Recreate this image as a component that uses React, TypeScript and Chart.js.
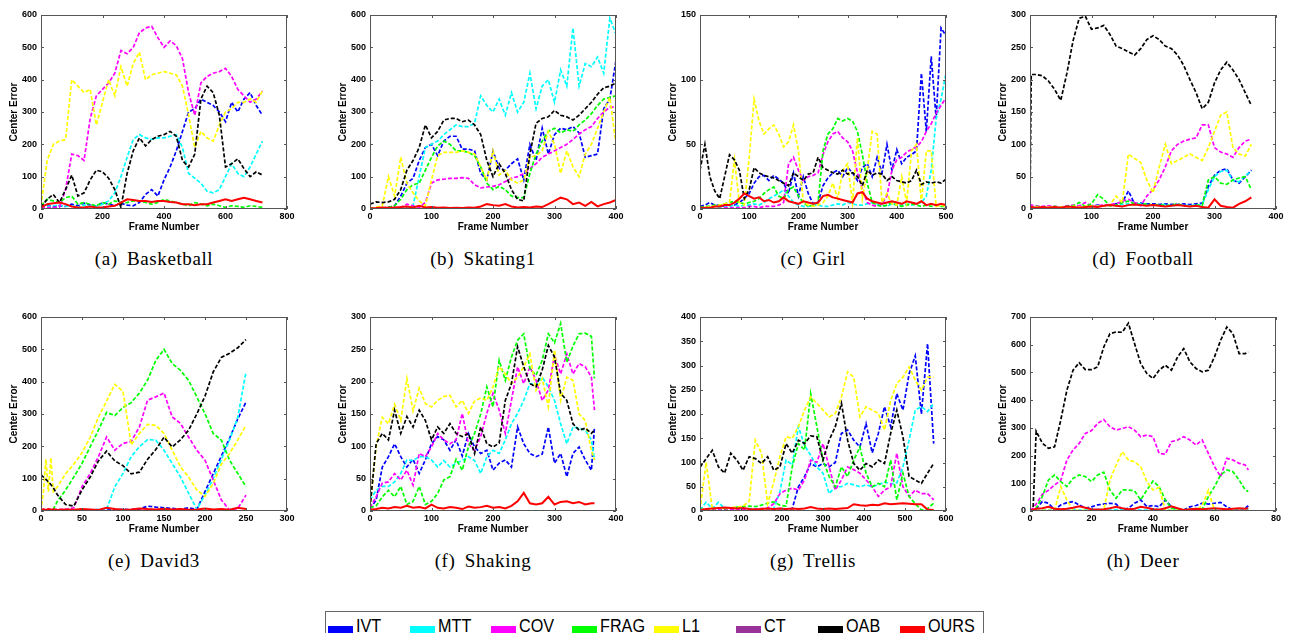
import React, { useEffect, useRef } from 'react';
import { Chart, registerables } from 'chart.js';

Chart.register(...registerables);

// ---------- series meta ----------
const SERIES_NAMES = ['IVT', 'MTT', 'COV', 'FRAG', 'L1', 'CT', 'OAB', 'OURS'];
const SERIES_COLORS = ['#0000ff', '#00ffff', '#ff00ff', '#00ff00', '#ffff00', '#993399', '#000000', '#ff0000'];

// ---------- (a) Basketball ----------
const bbFrames = [0, 20, 40, 60, 80, 100, 120, 140, 160, 180, 200, 220, 240, 260, 280, 300, 320, 340, 360, 380, 400, 420, 440, 460, 480, 500, 520, 540, 560, 580, 600, 620, 640, 660, 680, 700, 720];
const bbIVT = [8, 12, 6, 10, 8, 15, 10, 18, 12, 8, 20, 15, 10, 18, 12, 10, 20, 45, 60, 40, 90, 130, 180, 240, 300, 310, 340, 330, 320, 300, 270, 330, 300, 340, 360, 320, 290];
const bbMTT = [5, 8, 10, 12, 8, 10, 6, 12, 10, 8, 15, 25, 50, 100, 160, 215, 230, 220, 215, 220, 220, 225, 230, 190, 110, 95, 80, 55, 50, 60, 100, 140, 110, 100, 130, 170, 210];
const bbCOV = [3, 4, 5, 5, 60, 170, 165, 150, 280, 350, 370, 390, 420, 490, 480, 500, 545, 560, 565, 530, 500, 520, 505, 465, 360, 290, 390, 410, 420, 425, 435, 410, 370, 350, 330, 340, 365];
const bbFRAG = [10, 30, 25, 20, 35, 40, 15, 20, 15, 10, 20, 15, 25, 20, 20, 25, 25, 20, 15, 20, 30, 25, 20, 15, 10, 20, 15, 10, 15, 10, 5, 10, 8, 5, 10, 8, 5];
const bbL1 = [10, 150, 200, 210, 215, 400, 380, 360, 370, 260, 330, 400, 350, 440, 380, 450, 485, 400, 415, 420, 425, 420, 415, 380, 290, 190, 240, 220, 210, 260, 300, 310, 330, 330, 340, 330, 365];
const bbOAB = [5, 30, 45, 20, 60, 105, 40, 50, 90, 120, 115, 95, 60, 5, 110, 180, 220, 195, 215, 225, 230, 240, 225, 150, 130, 170, 340, 380, 360, 290, 130, 140, 155, 125, 100, 115, 105];
const bbOURS = [5, 15, 18, 20, 15, 8, 5, 5, 8, 5, 5, 8, 10, 20, 30, 28, 25, 25, 22, 25, 25, 22, 20, 15, 15, 12, 15, 15, 20, 25, 30, 25, 30, 35, 30, 25, 20];

// ---------- (b) Skating1 ----------
const skFrames = [0, 10, 20, 30, 40, 50, 60, 70, 80, 90, 100, 110, 120, 130, 140, 150, 160, 170, 180, 190, 200, 210, 220, 230, 240, 250, 260, 270, 280, 290, 300, 310, 320, 330, 340, 350, 360, 370, 380, 390, 400];
const skIVT = [2, 2, 3, 5, 10, 40, 80, 95, 150, 190, 200, 165, 210, 225, 225, 185, 185, 180, 110, 90, 180, 125, 120, 140, 155, 90, 200, 150, 250, 170, 230, 250, 245, 255, 235, 160, 165, 170, 310, 340, 460];
const skMTT = [0, 0, 2, 3, 3, 3, 5, 10, 100, 190, 200, 210, 230, 245, 260, 255, 255, 265, 350, 320, 300, 340, 290, 360, 300, 330, 420, 310, 380, 400, 330, 430, 380, 560, 380, 450, 440, 470, 420, 590, 540];
const skCOV = [0, 0, 0, 0, 2, 5, 15, 10, 5, 20, 80, 90, 92, 95, 95, 97, 95, 75, 65, 68, 70, 75, 85, 95, 100, 110, 125, 140, 160, 170, 180, 190, 200, 215, 232, 245, 255, 280, 300, 315, 315];
const skFRAG = [2, 3, 3, 5, 10, 30, 60, 75, 80, 120, 160, 195, 210, 200, 180, 180, 175, 165, 130, 80, 60, 70, 60, 40, 35, 35, 110, 170, 210, 240, 250, 235, 245, 240, 260, 275, 295, 320, 340, 345, 350];
const skL1 = [2, 5, 10, 100, 40, 160, 80, 50, 25, 10, 90, 165, 175, 175, 175, 180, 175, 170, 130, 90, 180, 105, 120, 90, 80, 90, 160, 165, 180, 240, 200, 110, 180, 130, 100, 170, 200, 250, 300, 345, 200];
const skOAB = [15, 22, 20, 22, 30, 60, 120, 150, 190, 260, 220, 240, 275, 280, 280, 270, 275, 260, 230, 150, 100, 140, 110, 60, 30, 25, 170, 265, 280, 285, 305, 290, 285, 275, 290, 310, 330, 355, 375, 380, 390];
const skOURS = [2, 3, 5, 4, 5, 6, 8, 5, 10, 5, 6, 4, 5, 3, 4, 3, 5, 4, 8, 15, 12, 10, 15, 8, 5, 6, 5, 8, 6, 15, 25, 35, 30, 15, 20, 10, 22, 8, 15, 20, 28];

// ---------- (c) Girl ----------
const giFrames = [0, 10, 20, 30, 40, 50, 60, 70, 80, 90, 100, 110, 120, 130, 140, 150, 160, 170, 180, 190, 200, 210, 220, 230, 240, 250, 260, 270, 280, 290, 300, 310, 320, 330, 340, 350, 360, 370, 380, 390, 400, 410, 420, 430, 440, 450, 460, 470, 480, 490, 500];
const giIVT = [2, 3, 5, 3, 3, 2, 3, 3, 5, 8, 12, 20, 25, 26, 22, 26, 23, 20, 12, 28, 10, 25, 12, 4, 5, 18, 24, 28, 30, 25, 32, 28, 22, 32, 35, 25, 40, 28, 50, 30, 46, 35, 40, 42, 45, 105, 60, 118, 70, 140, 134];
const giMTT = [1, 1, 2, 2, 1, 2, 2, 3, 2, 3, 3, 4, 3, 5, 8, 10, 12, 15, 10, 5, 3, 2, 2, 3, 3, 2, 2, 3, 4, 3, 5, 4, 3, 3, 4, 5, 4, 3, 2, 4, 3, 3, 4, 3, 4, 5, 10, 30, 70, 85, 105];
const giCOV = [0, 0, 0, 0, 0, 1, 1, 1, 1, 1, 2, 2, 1, 2, 2, 2, 3, 5, 35, 40, 30, 22, 25, 26, 28, 42, 52, 58, 60, 55, 52, 45, 28, 15, 5, 3, 2, 4, 10, 30, 38, 40, 44, 46, 48, 52, 60, 66, 74, 80, 86];
const giFRAG = [1, 2, 2, 3, 3, 4, 5, 6, 5, 4, 5, 6, 8, 12, 15, 17, 10, 8, 15, 17, 10, 5, 2, 3, 5, 45, 58, 62, 70, 68, 70, 68, 60, 42, 20, 5, 3, 2, 3, 5, 3, 2, 3, 4, 3, 2, 3, 2, 3, 2, 2];
const giL1 = [0, 1, 2, 2, 3, 4, 5, 38, 5, 3, 40, 85, 68, 58, 62, 65, 58, 48, 52, 65, 45, 5, 3, 2, 3, 5, 10, 20, 8, 30, 35, 5, 55, 8, 30, 60, 58, 5, 12, 4, 3, 25, 5, 45, 50, 5, 45, 45, 2, 3, 2];
const giOAB = [30, 50, 25, 14, 8, 25, 42, 38, 30, 8, 15, 32, 28, 26, 25, 24, 22, 20, 18, 28, 25, 22, 27, 28, 40, 32, 30, 28, 27, 30, 27, 28, 25, 18, 30, 26, 28, 27, 22, 25, 22, 21, 20, 22, 30, 19, 21, 20, 21, 20, 23];
const giOURS = [1, 1, 1, 2, 2, 3, 3, 5, 8, 12, 10, 8, 9, 6, 7, 5, 6, 9, 6, 5, 4, 6, 5, 4, 5, 10, 11, 9, 8, 7, 6, 5, 12, 13, 8, 6, 5, 4, 5, 6, 5, 4, 6, 5, 4, 6, 3, 4, 3, 4, 3];

// ---------- (d) Football ----------
const fbFrames = [0, 2, 10, 20, 30, 40, 50, 60, 70, 80, 90, 100, 110, 120, 130, 140, 150, 160, 170, 180, 190, 200, 210, 220, 230, 240, 250, 260, 270, 280, 290, 300, 310, 320, 330, 340, 350, 360];
const fbIVT = [3, 3, 3, 2, 3, 2, 3, 4, 3, 4, 3, 5, 6, 5, 6, 8, 10, 28, 8, 9, 8, 8, 7, 8, 7, 7, 8, 7, 8, 9, 35, 52, 60, 62, 45, 40, 50, 60];
const fbMTT = [2, 2, 2, 3, 2, 3, 2, 3, 3, 4, 3, 4, 5, 5, 6, 6, 7, 8, 7, 8, 7, 6, 6, 7, 5, 6, 6, 5, 6, 7, 30, 50, 58, 60, 44, 42, 52, 58];
const fbCOV = [8, 6, 5, 4, 5, 4, 3, 5, 6, 5, 10, 4, 5, 6, 7, 8, 12, 15, 10, 5, 20, 30, 45, 65, 90, 100, 105, 108, 110, 130, 130, 95, 88, 85, 80, 95, 105, 108];
const fbFRAG = [2, 3, 4, 3, 2, 4, 3, 4, 5, 10, 4, 8, 22, 15, 5, 6, 10, 12, 8, 7, 8, 6, 7, 5, 6, 8, 5, 4, 6, 5, 45, 50, 40, 38, 45, 48, 50, 30];
const fbL1 = [3, 3, 3, 2, 3, 2, 3, 3, 4, 3, 4, 5, 4, 5, 6, 20, 10, 85, 78, 72, 45, 25, 65, 100, 70, 75, 80, 85, 80, 75, 95, 120, 145, 150, 95, 85, 82, 100];
const fbOAB = [5, 208, 208, 206, 198, 185, 168, 210, 260, 295, 298, 278, 280, 284, 270, 252, 248, 243, 238, 248, 262, 268, 262, 252, 248, 238, 222, 200, 180, 155, 165, 195, 215, 227, 215, 200, 180, 160];
const fbOURS = [2, 3, 2, 3, 2, 3, 2, 4, 3, 2, 3, 4, 3, 5, 6, 5, 4, 6, 7, 6, 5, 6, 5, 4, 5, 6, 5, 4, 5, 3, 2, 15, 5, 3, 2, 8, 12, 18];

// ---------- (e) David3 ----------
const dvFrames = [0, 3, 6, 9, 12, 15, 20, 30, 40, 50, 60, 70, 80, 90, 100, 110, 120, 130, 140, 150, 160, 170, 180, 190, 200, 210, 220, 230, 240, 250];
const dvIVT = [2, 3, 2, 3, 2, 3, 2, 3, 2, 3, 3, 4, 3, 4, 5, 4, 6, 15, 12, 10, 8, 6, 10, 5, 60, 115, 170, 225, 285, 337];
const dvMTT = [2, 3, 2, 3, 2, 3, 2, 3, 3, 2, 3, 4, 5, 75, 116, 168, 199, 221, 219, 188, 147, 106, 55, 5, 50, 100, 160, 220, 290, 430];
const dvCOV = [5, 5, 4, 5, 5, 4, 5, 5, 10, 75, 116, 168, 229, 188, 209, 215, 260, 343, 353, 365, 291, 271, 229, 188, 157, 96, 34, 3, 8, 49];
const dvFRAG = [3, 3, 3, 2, 3, 5, 30, 65, 105, 147, 199, 250, 305, 295, 320, 335, 365, 405, 466, 500, 456, 435, 404, 353, 301, 240, 219, 157, 116, 75];
const dvL1 = [0, 60, 160, 60, 165, 60, 75, 115, 145, 180, 228, 290, 340, 392, 370, 205, 240, 268, 265, 240, 188, 137, 105, 65, 45, 85, 145, 178, 220, 265];
const dvOAB = [112, 105, 98, 90, 82, 72, 50, 20, 15, 65, 105, 155, 185, 155, 140, 115, 120, 160, 190, 228, 198, 220, 250, 300, 355, 430, 475, 488, 505, 530];
const dvOURS = [2, 5, 3, 6, 4, 5, 3, 5, 4, 6, 5, 3, 10, 6, 4, 5, 8, 6, 5, 7, 5, 6, 4, 5, 8, 5, 6, 4, 10, 6];

// ---------- (f) Shaking ----------
const shFrames = [0, 10, 20, 30, 40, 50, 60, 70, 80, 90, 100, 110, 120, 130, 140, 150, 160, 170, 180, 190, 200, 210, 220, 230, 240, 250, 260, 270, 280, 290, 300, 310, 320, 330, 340, 350, 360, 365];
const shIVT = [3, 17, 68, 84, 104, 84, 68, 80, 58, 79, 104, 115, 110, 94, 110, 85, 120, 99, 89, 94, 63, 74, 79, 68, 130, 104, 89, 84, 88, 130, 74, 89, 53, 89, 99, 79, 63, 130];
const shMTT = [17, 32, 38, 38, 45, 58, 79, 78, 84, 84, 79, 68, 78, 68, 74, 78, 84, 78, 58, 84, 94, 89, 110, 135, 151, 171, 197, 195, 207, 192, 171, 135, 104, 130, 128, 125, 110, 79];
const shCOV = [5, 22, 43, 45, 58, 48, 63, 40, 89, 84, 99, 120, 110, 104, 110, 151, 104, 94, 115, 151, 182, 156, 120, 171, 223, 197, 223, 202, 171, 187, 241, 212, 243, 212, 228, 223, 207, 156];
const shFRAG = [5, 8, 22, 32, 22, 38, 10, 15, 38, 10, 15, 27, 48, 53, 80, 63, 99, 120, 150, 192, 161, 233, 202, 238, 264, 274, 220, 210, 233, 274, 260, 290, 230, 255, 274, 275, 270, 205];
const shL1 = [5, 100, 145, 135, 165, 140, 205, 155, 190, 166, 161, 171, 177, 179, 161, 171, 151, 170, 175, 171, 192, 223, 212, 197, 207, 223, 243, 187, 205, 161, 249, 171, 207, 202, 150, 140, 94, 79];
const shOAB = [5, 104, 120, 110, 156, 120, 146, 130, 156, 140, 110, 130, 120, 135, 120, 115, 120, 89, 130, 104, 99, 105, 171, 197, 254, 223, 197, 192, 218, 256, 238, 182, 171, 135, 125, 128, 120, 125];
const shOURS = [2, 3, 5, 4, 6, 5, 8, 5, 6, 4, 10, 5, 4, 6, 5, 3, 7, 5, 6, 8, 5, 6, 4, 8, 15, 28, 12, 10, 12, 22, 10, 14, 15, 12, 14, 10, 12, 12];

// ---------- (g) Trellis ----------
const trFrames = [0, 15, 30, 45, 60, 75, 90, 105, 120, 135, 150, 165, 180, 195, 210, 225, 240, 255, 270, 285, 300, 315, 330, 345, 360, 375, 390, 405, 420, 435, 450, 465, 480, 495, 510, 525, 540, 555, 570];
const trIVT = [2, 3, 2, 3, 4, 3, 4, 3, 4, 3, 4, 5, 4, 5, 4, 5, 50, 71, 98, 91, 98, 91, 100, 160, 167, 146, 132, 180, 120, 160, 215, 174, 242, 208, 283, 320, 200, 345, 139];
const trMTT = [2, 18, 5, 18, 5, 4, 3, 4, 5, 4, 3, 4, 5, 40, 105, 95, 174, 135, 115, 91, 78, 36, 50, 50, 57, 54, 50, 54, 50, 54, 60, 56, 58, 91, 146, 208, 215, 205, 222];
const trCOV = [2, 3, 3, 4, 3, 4, 3, 4, 3, 4, 5, 6, 15, 36, 43, 47, 43, 64, 105, 100, 139, 91, 43, 64, 91, 85, 78, 64, 50, 30, 43, 50, 119, 50, 30, 43, 36, 36, 23];
const trFRAG = [3, 4, 5, 6, 5, 6, 8, 9, 10, 9, 12, 16, 19, 12, 10, 91, 139, 126, 242, 174, 105, 71, 50, 91, 71, 105, 132, 78, 50, 57, 50, 105, 23, 78, 30, 15, 2, 5, 16];
const trL1 = [2, 100, 5, 6, 5, 7, 8, 10, 20, 146, 119, 15, 60, 112, 153, 150, 174, 208, 235, 222, 208, 194, 201, 235, 287, 276, 194, 215, 208, 201, 167, 228, 263, 276, 297, 270, 249, 276, 276];
const trOAB = [90, 108, 125, 91, 78, 119, 105, 84, 112, 108, 98, 112, 84, 91, 139, 119, 146, 139, 155, 153, 105, 146, 174, 222, 146, 98, 84, 98, 91, 105, 98, 160, 208, 153, 71, 64, 57, 78, 98];
const trOURS = [2, 4, 5, 6, 7, 6, 5, 6, 4, 3, 4, 5, 4, 5, 4, 5, 4, 5, 8, 5, 4, 5, 4, 5, 6, 14, 12, 11, 13, 12, 16, 14, 15, 16, 15, 14, 14, 3, 2];

// ---------- (h) Deer ----------
const deFrames = [0, 1, 2, 4, 6, 8, 10, 12, 14, 16, 18, 20, 22, 24, 26, 28, 30, 32, 34, 36, 38, 40, 42, 44, 46, 48, 50, 52, 54, 56, 58, 60, 62, 64, 66, 68, 70, 71];
const deIVT = [2, 3, 8, 34, 28, 4, 22, 30, 34, 22, 10, 15, 22, 25, 28, 25, 4, 10, 28, 40, 16, 20, 15, 40, 15, 4, 4, 15, 20, 28, 25, 28, 31, 15, 4, 4, 10, 19];
const deMTT = [1, 1, 2, 3, 4, 3, 5, 8, 6, 4, 3, 5, 6, 4, 3, 5, 4, 6, 5, 3, 4, 6, 5, 4, 3, 5, 4, 6, 8, 10, 6, 4, 3, 5, 4, 3, 4, 5];
const deCOV = [5, 10, 25, 60, 75, 94, 110, 184, 220, 244, 280, 290, 316, 330, 304, 292, 298, 304, 292, 268, 274, 268, 208, 205, 250, 256, 268, 256, 238, 256, 208, 160, 124, 190, 184, 172, 166, 148];
const deFRAG = [0, 2, 10, 52, 112, 130, 106, 88, 118, 130, 124, 106, 130, 140, 76, 46, 76, 76, 72, 40, 76, 108, 88, 40, 10, 5, 4, 6, 8, 6, 52, 88, 130, 148, 142, 112, 76, 70];
const deL1 = [0, 0, 1, 2, 2, 3, 88, 40, 3, 2, 2, 2, 2, 5, 112, 165, 214, 184, 178, 160, 106, 76, 85, 3, 2, 2, 2, 2, 2, 20, 75, 2, 1, 1, 1, 1, 1, 1];
const deOAB = [0, 5, 288, 245, 226, 232, 328, 436, 508, 535, 510, 510, 520, 592, 640, 646, 645, 678, 604, 532, 496, 478, 508, 526, 508, 556, 586, 538, 514, 502, 508, 556, 616, 664, 640, 568, 568, 574];
const deOURS = [2, 5, 8, 10, 15, 8, 6, 8, 12, 17, 12, 6, 5, 6, 10, 15, 10, 6, 8, 15, 12, 6, 5, 10, 17, 10, 4, 6, 8, 6, 8, 10, 8, 6, 8, 10, 8, 10];

// ---------- axis ranges / captions ----------
const CAPTIONS = ['(a) Basketball', '(b) Skating1', '(c) Girl', '(d) Football', '(e) David3', '(f) Shaking', '(g) Trellis', '(h) Deer'];
const X_MAX = [800, 400, 500, 400, 300, 400, 600, 80];
const X_STEP = [200, 100, 100, 100, 50, 100, 100, 20];
const Y_MAX = [600, 600, 150, 300, 600, 300, 400, 700];
const Y_STEP = [100, 100, 50, 50, 100, 50, 50, 100];

const PANEL_DATA = [
  { frames: bbFrames, values: [bbIVT, bbMTT, bbCOV, bbFRAG, bbL1, null, bbOAB, bbOURS] },
  { frames: skFrames, values: [skIVT, skMTT, skCOV, skFRAG, skL1, null, skOAB, skOURS] },
  { frames: giFrames, values: [giIVT, giMTT, giCOV, giFRAG, giL1, null, giOAB, giOURS] },
  { frames: fbFrames, values: [fbIVT, fbMTT, fbCOV, fbFRAG, fbL1, null, fbOAB, fbOURS] },
  { frames: dvFrames, values: [dvIVT, dvMTT, dvCOV, dvFRAG, dvL1, null, dvOAB, dvOURS] },
  { frames: shFrames, values: [shIVT, shMTT, shCOV, shFRAG, shL1, null, shOAB, shOURS] },
  { frames: trFrames, values: [trIVT, trMTT, trCOV, trFRAG, trL1, null, trOAB, trOURS] },
  { frames: deFrames, values: [deIVT, deMTT, deCOV, deFRAG, deL1, null, deOAB, deOURS] },
];

// ---------- layout ----------
const COL_LEFT = [41, 370, 700, 1030];
const ROW_TOP = [15, 317];
const PLOT_W = 246;
const PLOT_H = 194;
const AXIS_W = 40;
const AXIS_H = 26;
const PAD_TOP = 10;
const PAD_RIGHT = 16;
const CANVAS_W = AXIS_W + PLOT_W + PAD_RIGHT;
const CANVAS_H = PAD_TOP + PLOT_H + AXIS_H;

const FONT_FAMILY = "'Liberation Sans', Arial, Helvetica, sans-serif";

const boxPlugin = {
  id: 'matlabBox',
  afterDraw(chart: any) {
    const { ctx, chartArea: a, scales } = chart;
    ctx.save();
    ctx.strokeStyle = '#555555';
    ctx.lineWidth = 1;
    ctx.strokeRect(Math.round(a.left) + 0.5, Math.round(a.top) + 0.5, Math.round(a.right - a.left) - 1, Math.round(a.bottom - a.top) - 1);
    const L = 3;
    ctx.beginPath();
    scales.x.ticks.forEach((_t: any, i: number) => {
      const x = Math.round(scales.x.getPixelForTick(i)) + 0.5;
      ctx.moveTo(x, a.bottom);
      ctx.lineTo(x, a.bottom - L);
      ctx.moveTo(x, a.top);
      ctx.lineTo(x, a.top + L);
    });
    scales.y.ticks.forEach((_t: any, i: number) => {
      const y = Math.round(scales.y.getPixelForTick(i)) + 0.5;
      ctx.moveTo(a.left, y);
      ctx.lineTo(a.left + L, y);
      ctx.moveTo(a.right, y);
      ctx.lineTo(a.right - L, y);
    });
    ctx.stroke();
    ctx.restore();
  },
};

function Panel({ index }: { index: number }) {
  const ref = useRef<HTMLCanvasElement | null>(null);
  const col = index % 4;
  const row = Math.floor(index / 4);
  const left = COL_LEFT[col] - AXIS_W;
  const top = ROW_TOP[row] - PAD_TOP;

  useEffect(() => {
    if (!ref.current) return;
    const pd = PANEL_DATA[index];
    const datasets: any[] = [];
    pd.values.forEach((vals, si) => {
      if (!vals) return;
      const isOurs = SERIES_NAMES[si] === 'OURS';
      datasets.push({
        label: SERIES_NAMES[si],
        data: pd.frames.map((f, i) => ({ x: f, y: vals[i] })),
        borderColor: SERIES_COLORS[si],
        backgroundColor: SERIES_COLORS[si],
        borderWidth: isOurs ? 2 : 1.7,
        borderDash: isOurs ? [] : [4, 2],
        pointRadius: 0,
        tension: 0,
        fill: false,
        order: SERIES_NAMES.length - 1 - si,
      });
    });
    const tickFont = { family: FONT_FAMILY, size: 9, weight: 'bold' as const };
    const titleFont = { family: FONT_FAMILY, size: 10, weight: 'bold' as const };
    const chart = new Chart(ref.current, {
      type: 'line',
      data: { datasets },
      options: {
        animation: false,
        responsive: false,
        devicePixelRatio: 1,
        events: [],
        layout: { padding: { top: PAD_TOP, right: PAD_RIGHT, left: 0, bottom: 0 } },
        plugins: { legend: { display: false }, tooltip: { enabled: false } },
        scales: {
          x: {
            type: 'linear',
            min: 0,
            max: X_MAX[index],
            ticks: { stepSize: X_STEP[index], font: tickFont, color: '#000', padding: 2, maxRotation: 0, autoSkip: false },
            grid: { display: false, drawTicks: false },
            border: { display: false },
            title: { display: true, text: 'Frame Number', font: titleFont, color: '#000', padding: { top: 0, bottom: 2 } },
            afterFit: (s: any) => { s.height = AXIS_H; },
          },
          y: {
            type: 'linear',
            min: 0,
            max: Y_MAX[index],
            ticks: { stepSize: Y_STEP[index], font: tickFont, color: '#000', padding: 4, autoSkip: false },
            grid: { display: false, drawTicks: false },
            border: { display: false },
            title: { display: true, text: 'Center Error', font: titleFont, color: '#000', padding: { top: 7, bottom: 0 } },
            afterFit: (s: any) => { s.width = AXIS_W; },
          },
        },
      } as any,
      plugins: [boxPlugin],
    });
    return () => chart.destroy();
  }, [index]);

  return (
    <canvas
      ref={ref}
      width={CANVAS_W}
      height={CANVAS_H}
      style={{ position: 'absolute', left, top, width: CANVAS_W, height: CANVAS_H }}
    />
  );
}

const CAPTION_TOP = [248, 550];
const LEGEND_SWATCH_X = [328, 410, 491, 572, 654, 736, 818, 900];

export default function App() {
  return (
    <div style={{ position: 'absolute', left: 0, top: 0, width: 1291, height: 633, overflow: 'hidden', background: '#fff' }}>
      {PANEL_DATA.map((_p, i) => <Panel key={i} index={i} />)}
      {CAPTIONS.map((c, i) => {
        const col = i % 4;
        const row = Math.floor(i / 4);
        const cx = COL_LEFT[col] + PLOT_W / 2 - 10;
        return (
          <div
            key={c}
            style={{
              position: 'absolute', left: cx - 100, top: CAPTION_TOP[row], width: 200, textAlign: 'center',
              fontFamily: "'Liberation Serif', 'Times New Roman', serif", fontSize: 19, lineHeight: '22px',
              letterSpacing: '0.6px', wordSpacing: '4px', whiteSpace: 'nowrap', color: '#000',
            }}
          >{c}</div>
        );
      })}
      <div style={{ position: 'absolute', left: 325, top: 611, width: 659, height: 40, border: '1px solid #666', boxSizing: 'border-box' }} />
      {SERIES_NAMES.map((n, i) => (
        <React.Fragment key={n}>
          <div style={{ position: 'absolute', left: LEGEND_SWATCH_X[i], top: 626, width: 25, height: 7, background: SERIES_COLORS[i] }} />
          <div style={{
            position: 'absolute', left: LEGEND_SWATCH_X[i] + 28, top: 616, lineHeight: '20px', fontSize: 18,
            fontFamily: FONT_FAMILY, color: '#000', transform: 'scaleX(0.9)', transformOrigin: 'left center', whiteSpace: 'nowrap',
          }}>{n}</div>
        </React.Fragment>
      ))}
    </div>
  );
}
